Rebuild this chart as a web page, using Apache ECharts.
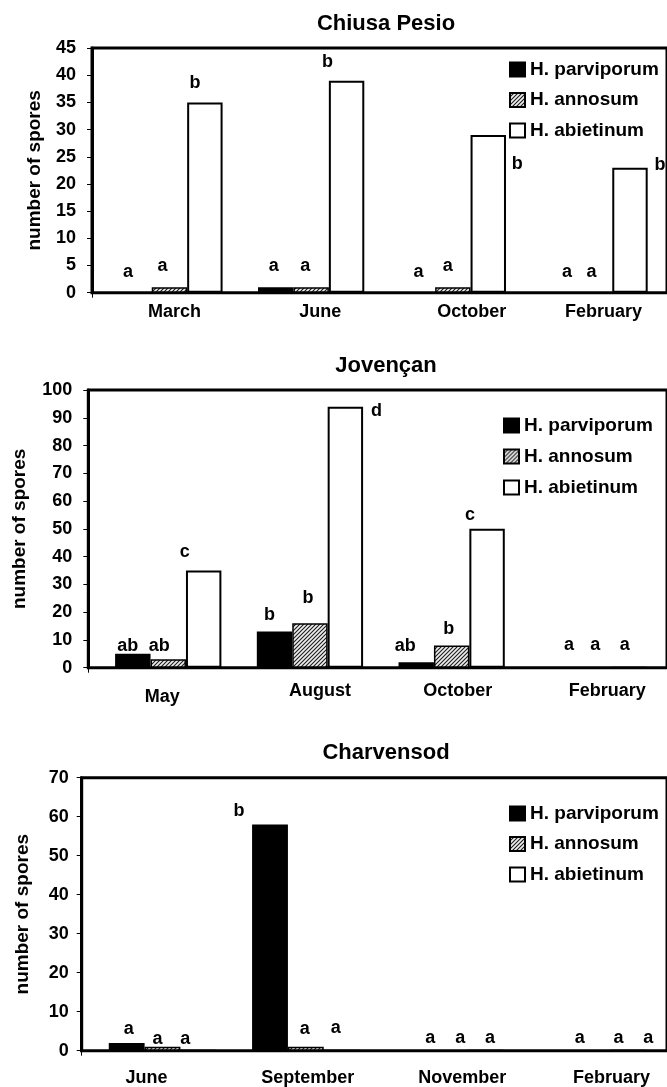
<!DOCTYPE html>
<html>
<head>
<meta charset="utf-8">
<title>Spore counts</title>
<script src="https://cdn.jsdelivr.net/npm/echarts@6/dist/echarts.min.js"></script>
<style>
  html, body { margin: 0; padding: 0; background: #fff; }
  #chart { width: 667px; height: 1087px; }
</style>
</head>
<body>
<div id="chart"></div>
<script>
// species (legend / series names)
const speciesNames = ['H. parviporum', 'H. annosum', 'H. abietinum'];

// Chiusa Pesio
const cpMonths = ['March', 'June', 'October', 'February'];
const cpParviporum = [0, 1, 0, 0];
const cpAnnosum = [1, 1, 1, 0];
const cpAbietinum = [35, 39, 29, 23];
const cpLetters = [['a', 'a', 'a', 'a'], ['a', 'a', 'a', 'a'], ['b', 'b', 'b', 'b']];
const cpAxisMax = 45, cpAxisStep = 5;

// Jovençan
const jvMonths = ['May', 'August', 'October', 'February'];
const jvParviporum = [5, 13, 2, 0];
const jvAnnosum = [3, 16, 8, 0];
const jvAbietinum = [35, 94, 50, 0];
const jvLetters = [['ab', 'b', 'ab', 'a'], ['ab', 'b', 'b', 'a'], ['c', 'd', 'c', 'a']];
const jvAxisMax = 100, jvAxisStep = 10;

// Charvensod
const chMonths = ['June', 'September', 'November', 'February'];
const chParviporum = [2, 58, 0, 0];
const chAnnosum = [1, 1, 0, 0];
const chAbietinum = [0, 0, 0, 0];
const chLetters = [['a', 'b', 'a', 'a'], ['a', 'a', 'a', 'a'], ['a', 'a', 'a', 'a']];
const chAxisMax = 70, chAxisStep = 10;

const FONT = '"Liberation Sans", Arial, Helvetica, sans-serif';

// diagonal hatch used for H. annosum
function hatchCanvas() {
    const c = document.createElement('canvas');
    c.width = 4; c.height = 4;
    const g = c.getContext('2d');
    g.fillStyle = '#eeeeee';
    g.fillRect(0, 0, 4, 4);
    g.strokeStyle = '#1a1a1a';
    g.lineWidth = 1.1;
    g.beginPath();
    g.moveTo(0, 4); g.lineTo(4, 0);
    g.moveTo(-1, 1); g.lineTo(1, -1);
    g.moveTo(3, 5); g.lineTo(5, 3);
    g.stroke();
    return c;
}

const speciesStyles = [
    { color: '#000', borderColor: '#000', borderWidth: 1.5 },
    { color: { image: hatchCanvas(), repeat: 'repeat' }, borderColor: '#000', borderWidth: 1.5 },
    { color: '#fff', borderColor: '#000', borderWidth: 2 }
];

// layout of each panel (pixels) and hand nudges for the letters / month labels
const panels = [
    {
        title: 'Chiusa Pesio', titleY: 24,
        months: cpMonths, values: [cpParviporum, cpAnnosum, cpAbietinum], letters: cpLetters,
        max: cpAxisMax, step: cpAxisStep,
        frameLeft: 92, barLeft: 98.6, barWidth: 566.8, top: 48, height: 244.7,
        labelMargin: 16, nameGap: 48, monthMargin: 10,
        monthDx: [5, 9, 19, 9], monthDy: [0, 0, 0, 0],
        legendLeft: 509, legendTop: 60, legendGap: 11.5,
        letterShift: [
            [[-6, -12], [-2, -13], [1, -12], [8, -12]],
            [[-7, -13], [-6, -13], [-5, -13], [-3, -12]],
            [[-10, -11], [-19, -11], [29, 37], [30, 5]]
        ]
    },
    {
        title: 'Jovençan', titleY: 366,
        months: jvMonths, values: [jvParviporum, jvAnnosum, jvAbietinum], letters: jvLetters,
        max: jvAxisMax, step: jvAxisStep,
        frameLeft: 88.3, barLeft: 97.4, barWidth: 566.8, top: 390, height: 277.7,
        labelMargin: 16, nameGap: 59, monthMargin: 14,
        monthDx: [-6, 10, 6, 14], monthDy: [6, 0, 0, 0],
        legendLeft: 503, legendTop: 416, legendGap: 12,
        letterShift: [
            [[-5, 0], [-5, -9], [-11, -8], [11, -14]],
            [[-9, -5], [-2, -17], [-3, -8], [2, -14]],
            [[-19, -10], [31, 12], [-17, -6], [-4, -14]]
        ]
    },
    {
        title: 'Charvensod', titleY: 753,
        months: chMonths, values: [chParviporum, chAnnosum, chAbietinum], letters: chLetters,
        max: chAxisMax, step: chAxisStep,
        frameLeft: 81.7, barLeft: 90.85, barWidth: 573.3, top: 777.7, height: 273,
        labelMargin: 13, nameGap: 49, monthMargin: 18,
        monthDx: [-16, 2, 13, 19], monthDy: [0, 0, 0, 0],
        legendLeft: 509, legendTop: 804, legendGap: 11.5,
        letterShift: [
            [[2, -6], [-31, -5], [17, -4], [23, -4]],
            [[-5, 0], [-1, -10], [11, -4], [26, -4]],
            [[-13, -3], [-6, -14], [5, -4], [20, -4]]
        ]
    }
];

const grid = [], xAxis = [], yAxis = [], series = [], legend = [], title = [];

panels.forEach((p, idx) => {
    const frame = idx * 2, bars = idx * 2 + 1;

    // frame: black box whose right side runs off the picture
    grid.push({ left: p.frameLeft, right: -20, top: p.top, height: p.height,
        show: true, borderColor: '#000', borderWidth: 3, backgroundColor: 'transparent' });
    // bars sit a little right of the y axis
    grid.push({ left: p.barLeft, width: p.barWidth, top: p.top, height: p.height });

    xAxis.push({
        gridIndex: frame, type: 'value', min: 0, max: 1, interval: 1,
        axisLine: { show: false }, splitLine: { show: false }, axisLabel: { show: false },
        axisTick: { show: true, length: 5, lineStyle: { color: '#000', width: 1 } }
    });
    yAxis.push({
        gridIndex: frame, type: 'value', min: 0, max: p.max, interval: p.step,
        axisLine: { show: true, lineStyle: { color: '#000', width: 3 } },
        axisTick: { show: true, length: 5, lineStyle: { color: '#000', width: 1 } },
        splitLine: { show: false },
        axisLabel: { color: '#000', fontSize: 18, fontWeight: 'bold', fontFamily: FONT, margin: p.labelMargin },
        name: 'number of spores', nameLocation: 'middle', nameGap: p.nameGap,
        nameTextStyle: { color: '#000', fontSize: 19, fontWeight: 'bold', fontFamily: FONT }
    });

    const rich = {};
    p.months.forEach((m, i) => {
        const dx = p.monthDx[i];
        rich['c' + i] = {
            fontSize: 18, fontWeight: 'bold', fontFamily: FONT, color: '#000',
            padding: [p.monthDy[i], dx < 0 ? -2 * dx : 0, 0, dx > 0 ? 2 * dx : 0]
        };
    });
    xAxis.push({
        gridIndex: bars, type: 'category', data: p.months,
        axisLine: { show: false }, axisTick: { show: false }, splitLine: { show: false },
        axisLabel: { interval: 0, margin: p.monthMargin, formatter: (v, i) => '{c' + i + '|' + v + '}', rich: rich }
    });
    yAxis.push({ gridIndex: bars, type: 'value', min: 0, max: p.max, show: false });

    speciesNames.forEach((name, s) => {
        series.push({
            name: name, type: 'bar', xAxisIndex: bars, yAxisIndex: bars,
            barGap: '0%', barCategoryGap: '25%',
            itemStyle: speciesStyles[s],
            label: {
                show: true, position: 'top', distance: 0,
                color: '#000', fontSize: 18, fontWeight: 'bold', fontFamily: FONT, lineHeight: 16
            },
            data: p.values[s].map((v, i) => ({
                value: v,
                label: { formatter: p.letters[s][i], offset: p.letterShift[s][i] }
            }))
        });
    });

    legend.push({
        orient: 'vertical', left: p.legendLeft, top: p.legendTop, padding: 0,
        itemWidth: 15, itemHeight: 14, itemGap: p.legendGap, icon: 'rect',
        selectedMode: false, data: speciesNames,
        textStyle: { color: '#000', fontSize: 19, fontWeight: 'bold', fontFamily: FONT, lineHeight: 18 }
    });

    title.push({
        text: p.title, left: 386, top: p.titleY, textAlign: 'center', textVerticalAlign: 'middle', padding: 0,
        textStyle: { color: '#000', fontSize: 22, fontWeight: 'bold', fontFamily: FONT }
    });
});

const chart = echarts.init(document.getElementById('chart'), null, { renderer: 'canvas' });
chart.setOption({
    animation: false,
    backgroundColor: '#fff',
    textStyle: { fontFamily: FONT },
    title: title,
    legend: legend,
    grid: grid,
    xAxis: xAxis,
    yAxis: yAxis,
    series: series
});
</script>
</body>
</html>
